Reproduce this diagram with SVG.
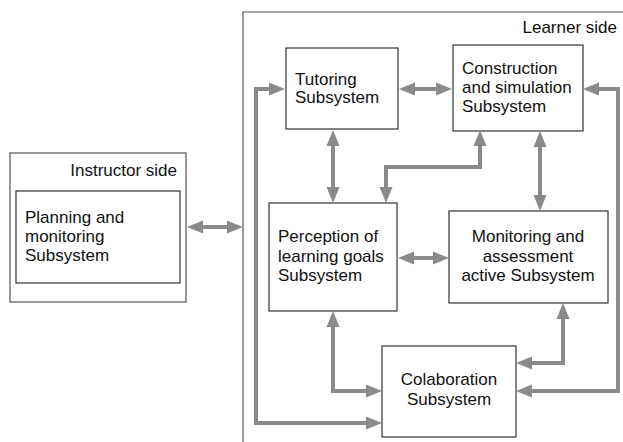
<svg xmlns="http://www.w3.org/2000/svg" width="623" height="442" viewBox="0 0 623 442">
<style>
.box{fill:#fff;stroke:#333;stroke-width:1.2}
.outer{fill:none;stroke:#555;stroke-width:1.2}
text{font-family:"Liberation Sans",Arial,sans-serif;font-size:17px;fill:#111}
.c{stroke:#8a8a8a;stroke-width:4;fill:none;marker-start:url(#ah);marker-end:url(#ah)}
</style>
<defs>
<marker id="ah" markerUnits="userSpaceOnUse" markerWidth="17" markerHeight="14" refX="0" refY="6.5" orient="auto-start-reverse" viewBox="0 0 17 13">
<path d="M0,0 L16,6.5 L0,13 z" fill="#8a8a8a"/>
</marker>
</defs>
<rect width="623" height="442" fill="#fff"/>
<g id="instructor-side">
<rect class="outer" x="10" y="153" width="176" height="149"/>
<text x="177" y="176" text-anchor="end">Instructor side</text>
</g>
<g id="learner-side">
<path class="outer" d="M243,442 V12 H630"/>
<text x="617" y="33" text-anchor="end">Learner side</text>
</g>
<g id="planning">
<rect class="box" x="16" y="191" width="164" height="92"/>
<text x="25" y="223">Planning and</text>
<text x="25" y="242">monitoring</text>
<text x="25" y="261">Subsystem</text>
</g>
<g id="tutoring">
<rect class="box" x="286" y="48" width="112" height="81"/>
<text x="295" y="85">Tutoring</text>
<text x="295" y="103">Subsystem</text>
</g>
<g id="construction">
<rect class="box" x="453" y="45" width="130" height="86"/>
<text x="462" y="74">Construction</text>
<text x="462" y="93">and simulation</text>
<text x="462" y="112">Subsystem</text>
</g>
<g id="perception">
<rect class="box" x="269" y="203" width="128" height="108"/>
<text x="278" y="242">Perception of</text>
<text x="278" y="262">learning goals</text>
<text x="278" y="281">Subsystem</text>
</g>
<g id="monitoring">
<rect class="box" x="449" y="211" width="159" height="92"/>
<text x="528" y="242" text-anchor="middle">Monitoring and</text>
<text x="528" y="262" text-anchor="middle">assessment</text>
<text x="528" y="281" text-anchor="middle">active Subsystem</text>
</g>
<g id="colaboration">
<rect class="box" x="382" y="346" width="134" height="91"/>
<text x="449" y="385" text-anchor="middle">Colaboration</text>
<text x="449" y="405" text-anchor="middle">Subsystem</text>
</g>
<g id="connectors">
<path class="c" d="M203,227 H227"/>
<path class="c" d="M415,89 H436"/>
<path class="c" d="M269,89 H256 V423 H366"/>
<path class="c" d="M599,89 H618 V391 H532"/>
<path class="c" d="M333,146 V187"/>
<path class="c" d="M480,146 V167 H386 V187"/>
<path class="c" d="M540,147 V195"/>
<path class="c" d="M414,258 H433"/>
<path class="c" d="M333,327 V391 H366"/>
<path class="c" d="M563,319 V363 H532"/>
</g>
</svg>
